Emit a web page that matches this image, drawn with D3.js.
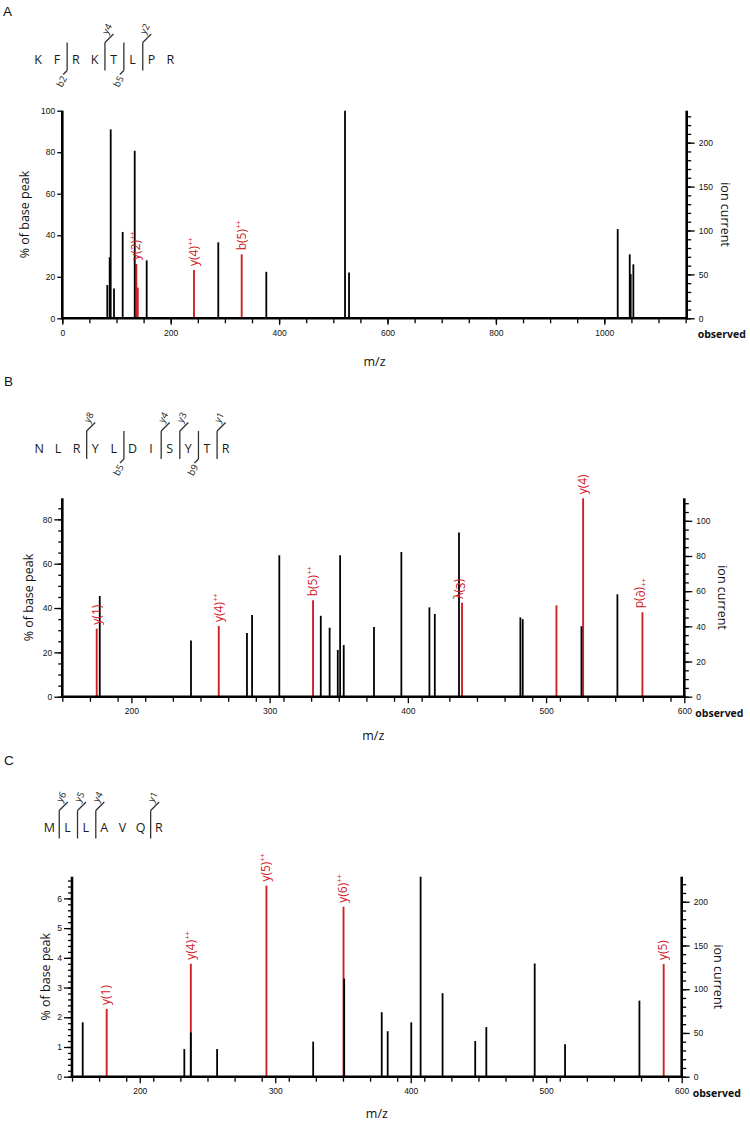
<!DOCTYPE html>
<html><head><meta charset="utf-8">
<script src="https://cdn.jsdelivr.net/npm/d3@7"></script>
<style>body{margin:0;background:#fff}svg{display:block}</style>
</head><body>
<svg id="c" width="750" height="1124"></svg>
<script>
// ---------- Panel A ----------
const aSequence = ["K","F","R","K","T","L","P","R"];
const aMarkerAfter = [1,3,4,5];
const aMarkerType = ["b","y","b","y"];
const aMarkerLabel = ["b2","y4","b5","y2"];
const aBlackMz  = [83,87.4,89.3,95.4,111.4,133.6,155.7,287.8,376.4,521.6,529,1024.7,1046.9,1048.7,1053.6];
const aBlackPct = [16,29.4,91,14.3,41.6,80.7,27.9,36.6,22.4,100,22.1,43,30.8,21.3,26];
const aRedMz  = [136.6,139.2,243,331];
const aRedPct = [26.2,14.8,23.3,30.8];
const aRedLabels = ["y(2)++","","y(4)++","b(5)++"];
const aRedMirror = [false,false,false,false];
const aXTicks = [0,200,400,600,800,1000];
const aLeftTicks = [0,20,40,60,80,100];
const aRightTicks = [0,50,100,150,200];

// ---------- Panel B ----------
const bSequence = ["N","L","R","Y","L","D","I","S","Y","T","R"];
const bMarkerAfter = [2,4,6,7,8,9];
const bMarkerType = ["y","b","y","y","b","y"];
const bMarkerLabel = ["y8","b5","y4","y3","b9","y1"];
const bBlackMz  = [177.1,243.1,283.6,287.3,307,337,343.4,349.3,351,353.6,375.5,395.3,415.6,419.5,437,481.4,483.1,525.6,551.6];
const bBlackPct = [45.4,25.3,28.7,36.9,63.8,36.5,31.1,21.1,63.8,23.3,31.4,65.3,40.3,37.3,74.1,35.8,35.0,31.8,46.2];
const bRedMz  = [174.9,263.2,331.4,439.2,507.5,526.8,569.7];
const bRedPct = [30.7,31.9,43.5,42.4,41.2,89.5,38.1];
const bRedLabels = ["y(1)","y(4)++","b(5)++","y(3)","","y(4)","b(9)++"];
const bRedMirror = [false,false,false,true,false,false,true];
const bXTicks = [200,300,400,500,600];
const bLeftTicks = [0,20,40,60,80];
const bRightTicks = [0,20,40,60,80,100];

// ---------- Panel C ----------
const cSequence = ["M","L","L","A","V","Q","R"];
const cMarkerAfter = [0,1,2,5];
const cMarkerType = ["y","y","y","y"];
const cMarkerLabel = ["y6","y5","y4","y1"];
const cBlackMz  = [157.9,232.9,237.7,257.1,328,350.9,378.6,383,400.4,407.3,423.5,447.6,455.8,491.5,513.9,568.8];
const cBlackPct = [1.83,0.93,1.49,0.93,1.18,3.30,2.17,1.53,1.83,6.73,2.81,1.2,1.67,3.81,1.09,2.56];
const cRedMz  = [175.6,237.7,293.5,350.4,586.7];
const cRedPct = [2.28,3.80,6.43,5.72,3.79];
const cRedLabels = ["y(1)","y(4)++","y(5)++","y(6)++","y(5)"];
const cRedMirror = [false,false,false,false,false];
const cXTicks = [200,300,400,500,600];
const cLeftTicks = [0,1,2,3,4,5,6];
const cRightTicks = [0,50,100,150,200];

const RED = "#cf2027";
const svg = d3.select("#c");
const TICKFONT = "Liberation Sans, Arial, sans-serif";
const TITLEFONT = "Open Sans, Noto Sans, sans-serif";

function drawPanel(p) {
  const g = svg.append("g");
  // panel letter
  g.append("text").attr("x", p.letterX).attr("y", p.letterY).text(p.letter)
    .attr("font-family", "Liberation Sans, Arial").attr("font-size", 13.5).attr("fill", "#111");

  // sequence
  const sx = i => p.seqX0 + i * p.seqDx;
  g.selectAll(null).data(p.seq).join("text")
    .attr("x", (d, i) => sx(i)).attr("y", p.seqBase).attr("text-anchor", "middle")
    .attr("font-family", TITLEFONT).attr("font-size", 12.5).attr("fill", "#1a1a1a").text(d => d);
  p.markerAfter.forEach((after, k) => {
    const mx = sx(after) + p.seqDx / 2 + 0.8;
    const top = p.seqBase - 21.5, bot = p.seqBase + 6.5;
    const st = {stroke: "#333", "stroke-width": 1.3, fill: "none"};
    const ln = (x1, y1, x2, y2) => { const l = g.append("line").attr("x1", x1).attr("y1", y1).attr("x2", x2).attr("y2", y2); Object.entries(st).forEach(([a, v]) => l.attr(a, v)); };
    ln(mx, top, mx, bot);
    let lx, ly;
    if (p.markerType[k] === "y") { ln(mx, top, mx + 8.5, top - 8.5); lx = mx + 2; ly = p.seqBase - 35; }
    else { ln(mx, bot, mx - 4, bot + 4); lx = mx - 5.5; ly = p.seqBase + 17.5; }
    g.append("text").attr("transform", `translate(${lx},${ly}) rotate(-62)`)
      .attr("text-anchor", "middle").attr("dy", "0.35em")
      .attr("font-family", TITLEFONT).attr("font-size", 9.5).attr("fill", "#222").text(p.markerLabel[k]);
  });

  // scales
  const x = d3.scaleLinear().domain(p.mzDomain).range(p.xRange);
  const y = d3.scaleLinear().domain([0, p.pctMax]).range([p.yBottom, p.yTop]);
  const yr = d3.scaleLinear().domain([0, p.ionMax]).range([p.yBottom, p.yTop]);

  // red peaks
  const red = p.redMz.map((m, i) => ({mz: m, v: p.redPct[i], lab: p.redLabels[i], mir: p.redMirror[i]}));
  g.selectAll(null).data(red).join("line")
    .attr("x1", d => x(d.mz)).attr("x2", d => x(d.mz))
    .attr("y1", y(0)).attr("y2", d => y(d.v)).attr("stroke", RED).attr("stroke-width", 1.9);
  // black peaks
  const blk = p.blackMz.map((m, i) => ({mz: m, v: p.blackPct[i]}));
  g.selectAll(null).data(blk).join("line")
    .attr("x1", d => x(d.mz)).attr("x2", d => x(d.mz))
    .attr("y1", y(0)).attr("y2", d => y(d.v)).attr("stroke", "#000").attr("stroke-width", 1.8);

  // red labels
  red.filter(d => d.lab).forEach(d => {
    const bx = x(d.mz), top = y(d.v) - 4;
    const tr = d.mir ? `translate(${bx - 6},${top}) scale(-1,1) rotate(-90)` : `translate(${bx + 3.8},${top}) rotate(-90)`;
    const t = g.append("text").attr("transform", tr).attr("fill", RED)
      .attr("font-family", TITLEFONT).attr("font-size", 12);
    const sup = d.lab.endsWith("++");
    t.append("tspan").text(sup ? d.lab.slice(0, -2) : d.lab);
    if (sup) t.append("tspan").attr("font-size", 7).attr("dy", -5).attr("dx", 0.5).text("++");
  });

  // axes
  const ax = (axis, tx, ty) => {
    const a = g.append("g").attr("transform", `translate(${tx},${ty})`).call(axis);
    a.select(".domain").remove();
    a.selectAll("line").attr("stroke", "#000").attr("stroke-width", 1.3);
    a.selectAll("text").attr("font-family", TICKFONT).attr("font-size", 8.5).attr("fill", "#111");
    return a;
  };
  // x minor + major
  const xMinor = d3.range(p.mzDomain[0], p.mzDomain[1] + 0.01, p.xMinorStep);
  ax(d3.axisBottom(x).tickValues(xMinor).tickSize(5).tickFormat(""), 0, p.yBottom);
  ax(d3.axisBottom(x).tickValues(p.xTicks).tickSize(6.5).tickPadding(5).tickFormat(d3.format("d")), 0, p.yBottom);
  // left
  if (p.leftMinorStep) ax(d3.axisLeft(y).tickValues(d3.range(0, p.pctMax, p.leftMinorStep)).tickSize(4).tickFormat(""), p.xRange[0], 0);
  ax(d3.axisLeft(y).tickValues(p.leftTicks).tickSize(p.leftTickLen).tickPadding(2).tickFormat(d3.format("d")), p.xRange[0], 0);
  // right
  ax(d3.axisRight(yr).tickValues(d3.range(0, p.ionMax, p.rightMinorStep)).tickSize(4.5).tickFormat(""), p.xRange[1], 0);
  ax(d3.axisRight(yr).tickValues(p.rightTicks).tickSize(8).tickPadding(4).tickFormat(d3.format("d")), p.xRange[1], 0);

  // axis lines
  const al = (x1, y1, x2, y2) => g.append("line").attr("x1", x1).attr("y1", y1).attr("x2", x2).attr("y2", y2)
    .attr("stroke", "#000").attr("stroke-width", 2.6);
  al(p.xRange[0] - 1.3, p.yBottom, p.xRange[1] + 1.3, p.yBottom);
  al(p.xRange[0], p.yTop, p.xRange[0], p.yBottom);
  al(p.xRange[1], p.yTop, p.xRange[1], p.yBottom);

  // titles
  const midY = (p.yTop + p.yBottom) / 2;
  g.append("text").attr("transform", `translate(${p.leftTitleX},${midY}) rotate(-90)`)
    .attr("text-anchor", "middle").attr("font-family", TITLEFONT).attr("font-size", 12.5).attr("fill", "#111")
    .text("% of base peak");
  g.append("text").attr("transform", `translate(${p.rightTitleX},${midY}) rotate(90)`)
    .attr("text-anchor", "middle").attr("font-family", TITLEFONT).attr("font-size", 12.5).attr("fill", "#111")
    .text("ion current");
  g.append("text").attr("x", (p.xRange[0] + p.xRange[1]) / 2).attr("y", p.mzTitleY)
    .attr("text-anchor", "middle").attr("font-family", TITLEFONT).attr("font-size", 12.5).attr("fill", "#111")
    .text("m/z");
  g.append("text").attr("x", p.xRange[1] + 11).attr("y", p.yBottom + 20)
    .attr("font-family", TITLEFONT).attr("font-weight", "bold").attr("font-size", 10.5).attr("fill", "#111")
    .text("observed");
}

drawPanel({
  letter: "A", letterX: 3, letterY: 16,
  seq: aSequence, seqX0: 38, seqDx: 18.9, seqBase: 64,
  markerAfter: aMarkerAfter, markerType: aMarkerType, markerLabel: aMarkerLabel,
  mzDomain: [0, 1152], xRange: [62.3, 686.7], yTop: 110.7, yBottom: 318.3,
  pctMax: 100, ionMax: 236.4,
  blackMz: aBlackMz, blackPct: aBlackPct, redMz: aRedMz, redPct: aRedPct, redLabels: aRedLabels, redMirror: aRedMirror,
  xTicks: aXTicks, xMinorStep: 50, leftTicks: aLeftTicks, leftMinorStep: 0, leftTickLen: 5,
  rightTicks: aRightTicks, rightMinorStep: 10,
  leftTitleX: 29, rightTitleX: 721, mzTitleY: 366
});
drawPanel({
  letter: "B", letterX: 4, letterY: 386,
  seq: bSequence, seqX0: 39.3, seqDx: 18.63, seqBase: 452.5,
  markerAfter: bMarkerAfter, markerType: bMarkerType, markerLabel: bMarkerLabel,
  mzDomain: [150, 600], xRange: [62.3, 684.3], yTop: 498.3, yBottom: 696.7,
  pctMax: 89.5, ionMax: 112.8,
  blackMz: bBlackMz, blackPct: bBlackPct, redMz: bRedMz, redPct: bRedPct, redLabels: bRedLabels, redMirror: bRedMirror,
  xTicks: bXTicks, xMinorStep: 20, leftTicks: bLeftTicks, leftMinorStep: 5, leftTickLen: 8,
  rightTicks: bRightTicks, rightMinorStep: 5,
  leftTitleX: 33, rightTitleX: 718, mzTitleY: 740
});
drawPanel({
  letter: "C", letterX: 4, letterY: 765,
  seq: cSequence, seqX0: 49.3, seqDx: 18.28, seqBase: 832,
  markerAfter: cMarkerAfter, markerType: cMarkerType, markerLabel: cMarkerLabel,
  mzDomain: [150, 600], xRange: [72, 681.7], yTop: 876.7, yBottom: 1076.7,
  pctMax: 6.73, ionMax: 228.6,
  blackMz: cBlackMz, blackPct: cBlackPct, redMz: cRedMz, redPct: cRedPct, redLabels: cRedLabels, redMirror: cRedMirror,
  xTicks: cXTicks, xMinorStep: 20, leftTicks: cLeftTicks, leftMinorStep: 0.2, leftTickLen: 8,
  rightTicks: cRightTicks, rightMinorStep: 10,
  leftTitleX: 50, rightTitleX: 714, mzTitleY: 1118
});
</script>
</body></html>
